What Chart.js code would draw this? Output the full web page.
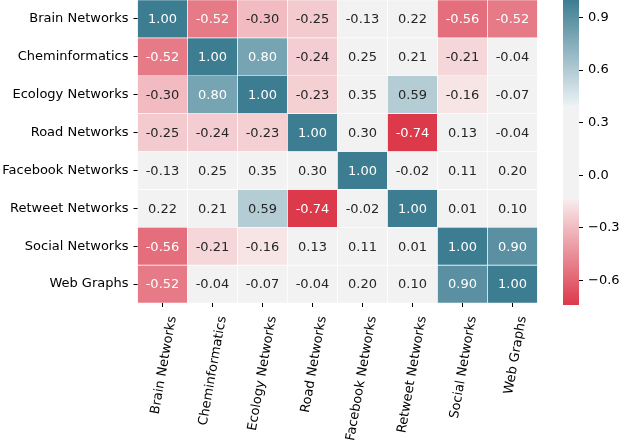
<!DOCTYPE html>
<html>
<head>
<meta charset="utf-8">
<script src="https://cdn.jsdelivr.net/npm/chart.js@4"></script>
<style>
  html, body { margin: 0; padding: 0; background: #fff; width: 620px; height: 444px; overflow: hidden; }
  #heat { position: absolute; left: 0; top: 0; }
  #cbar { position: absolute; left: 563px; top: 0; }
</style>
</head>
<body>
<canvas id="heat" width="545" height="444"></canvas>
<canvas id="cbar" width="57" height="444"></canvas>
<script>
// ---- data ----
const rowLabels = ["Brain Networks", "Cheminformatics", "Ecology Networks", "Road Networks",
                   "Facebook Networks", "Retweet Networks", "Social Networks", "Web Graphs"];
const colLabels = rowLabels.slice();
const brainRow     = [ 1.00, -0.52, -0.30, -0.25, -0.13,  0.22, -0.56, -0.52];
const chemRow      = [-0.52,  1.00,  0.80, -0.24,  0.25,  0.21, -0.21, -0.04];
const ecologyRow   = [-0.30,  0.80,  1.00, -0.23,  0.35,  0.59, -0.16, -0.07];
const roadRow      = [-0.25, -0.24, -0.23,  1.00,  0.30, -0.74,  0.13, -0.04];
const facebookRow  = [-0.13,  0.25,  0.35,  0.30,  1.00, -0.02,  0.11,  0.20];
const retweetRow   = [ 0.22,  0.21,  0.59, -0.74, -0.02,  1.00,  0.01,  0.10];
const socialRow    = [-0.56, -0.21, -0.16,  0.13,  0.11,  0.01,  1.00,  0.90];
const webRow       = [-0.52, -0.04, -0.07, -0.04,  0.20,  0.10,  0.90,  1.00];
const matrix = [brainRow, chemRow, ecologyRow, roadRow, facebookRow, retweetRow, socialRow, webRow];
const colorTicks = [0.9, 0.6, 0.3, 0.0, -0.3, -0.6];
const vMin = -0.74, vMax = 1.00;

// ---- colormap (diverging red -> light -> blue, wide light center) ----
const RED = [220, 57, 75], RED_LIGHT = [248, 234, 235];
const BLUE = [61, 125, 145], BLUE_LIGHT = [234, 241, 244];
const MID = [242, 242, 242];
const SIDE = 88 / 256;
function lerp(a, b, f) { return a.map((v, i) => Math.round(v + (b[i] - v) * f)); }
function cmap(v) {
  const t = (v - vMin) / (vMax - vMin);
  if (t < SIDE) return lerp(RED, RED_LIGHT, t / SIDE);
  if (t > 1 - SIDE) return lerp(BLUE_LIGHT, BLUE, (t - (1 - SIDE)) / SIDE);
  return MID;
}
function rgb(c) { return `rgb(${c[0]},${c[1]},${c[2]})`; }
function lum(c) {
  const l = c.map(x => { x /= 255; return x <= 0.03928 ? x / 12.92 : Math.pow((x + 0.055) / 1.055, 2.4); });
  return 0.2126 * l[0] + 0.7152 * l[1] + 0.0722 * l[2];
}

const FONT = { family: "'DejaVu Sans', sans-serif", size: 13 };
function noPad(s) { s.paddingTop = 0; s.paddingBottom = 0; s.paddingLeft = 0; s.paddingRight = 0; }

// ---- heatmap ----
const datasets = matrix.map((row, r) => ({
  label: rowLabels[r],
  data: row.map(() => [r, r + 1]),
  backgroundColor: row.map(v => rgb(cmap(v))),
  borderColor: '#ffffff',
  borderWidth: 0.6,
  borderSkipped: false,
  grouped: false,
  barPercentage: 1,
  categoryPercentage: 1
}));

const annotPlugin = {
  id: 'annot',
  afterDatasetsDraw(chart) {
    const ctx = chart.ctx;
    const xs = chart.scales.x, ys = chart.scales.y;
    ctx.save();
    ctx.font = `13px ${FONT.family}`;
    ctx.textAlign = 'center';
    ctx.textBaseline = 'middle';
    matrix.forEach((row, r) => {
      row.forEach((v, c) => {
        const col = cmap(v);
        ctx.fillStyle = lum(col) > 0.408 ? '#262626' : '#ffffff';
        const x = xs.getPixelForValue(c);
        const y = ys.getPixelForValue(r + 0.5);
        const txt = (v < 0 ? '-' : '') + Math.abs(v).toFixed(2);
        ctx.fillText(txt, x, y + 1);
      });
    });
    ctx.restore();
  }
};

new Chart(document.getElementById('heat'), {
  type: 'bar',
  data: { labels: colLabels, datasets },
  plugins: [annotPlugin],
  options: {
    responsive: false,
    animation: false,
    events: [],
    layout: { padding: { left: 0, right: 7.5, top: 0, bottom: 0 } },
    plugins: { legend: { display: false }, tooltip: { enabled: false } },
    scales: {
      x: {
        type: 'category',
        offset: true,
        grid: { offset: false, drawOnChartArea: false, drawTicks: true, tickLength: 4, tickColor: '#000', lineWidth: 1 },
        border: { display: false },
        ticks: { autoSkip: false, maxRotation: 80, minRotation: 80, color: '#000', font: FONT, padding: 8, labelOffset: 10 },
        afterFit(s) { s.height = 141; noPad(s); }
      },
      y: {
        type: 'linear',
        min: 0, max: 8, reverse: true,
        grid: { drawOnChartArea: false, drawTicks: true, tickLength: 4, tickColor: '#000', lineWidth: 1 },
        border: { display: false },
        afterBuildTicks(s) { s.ticks = rowLabels.map((_, i) => ({ value: i + 0.5 })); },
        ticks: { color: '#000', font: FONT, padding: 5, callback: (v, i) => rowLabels[i] },
        afterFit(s) { s.width = 137.5; noPad(s); }
      }
    }
  }
});

// ---- colorbar ----
const cbarStops = [
  [vMax, BLUE], [vMax - SIDE * (vMax - vMin), BLUE_LIGHT],
  [vMax - SIDE * (vMax - vMin) - 0.0001, MID], [vMin + SIDE * (vMax - vMin) + 0.0001, MID],
  [vMin + SIDE * (vMax - vMin), RED_LIGHT], [vMin, RED]
];
new Chart(document.getElementById('cbar'), {
  type: 'bar',
  data: {
    labels: ['cb'],
    datasets: [{
      data: [[vMin, vMax]],
      barPercentage: 1, categoryPercentage: 1, borderWidth: 0,
      backgroundColor(context) {
        const chart = context.chart;
        const ys = chart.scales.y;
        if (!chart.chartArea || !ys) return rgb(MID);
        const top = ys.getPixelForValue(vMax), bot = ys.getPixelForValue(vMin);
        const g = chart.ctx.createLinearGradient(0, top, 0, bot);
        cbarStops.forEach(([v, c]) => {
          const p = (ys.getPixelForValue(v) - top) / (bot - top);
          g.addColorStop(Math.min(1, Math.max(0, p)), rgb(c));
        });
        return g;
      }
    }]
  },
  options: {
    responsive: false,
    animation: false,
    events: [],
    layout: { padding: { left: 0, right: 0, top: 0, bottom: 139 } },
    plugins: { legend: { display: false }, tooltip: { enabled: false } },
    scales: {
      x: { display: false },
      y: {
        position: 'right',
        type: 'linear', min: vMin, max: vMax,
        grid: { drawOnChartArea: false, drawTicks: true, tickLength: 4, tickColor: '#000', lineWidth: 1 },
        border: { display: false },
        afterBuildTicks(s) { s.ticks = colorTicks.map(v => ({ value: v })); },
        ticks: {
          color: '#000', font: FONT, padding: 5,
          callback: (v) => (v < 0 ? '\u2212' : '') + Math.abs(v).toFixed(1)
        },
        afterFit(s) { s.width = 41; noPad(s); }
      }
    }
  }
});
</script>
</body>
</html>
